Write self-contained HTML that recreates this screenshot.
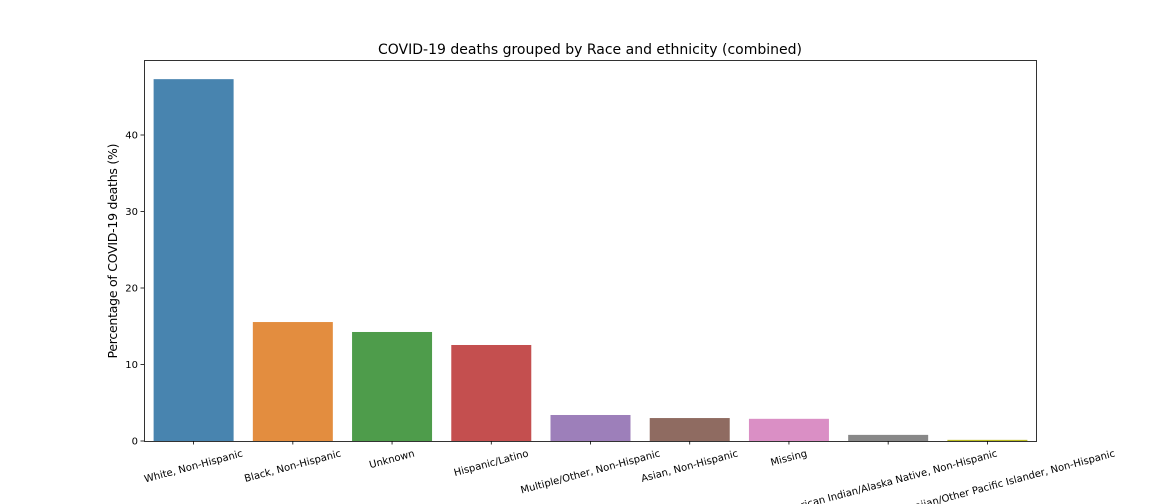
<!DOCTYPE html>
<html><head><meta charset="utf-8"><style>
html,body{margin:0;padding:0;background:#fff;width:1152px;height:504px;overflow:hidden}
svg text{font-family:"DejaVu Sans","Liberation Sans",sans-serif;fill:#000}
</style></head><body>
<svg id="chart" width="1152" height="504" xmlns="http://www.w3.org/2000/svg">
<text x="590" y="54" font-size="14" text-anchor="middle" textLength="424">COVID-19 deaths grouped by Race and ethnicity (combined)</text>
<text transform="translate(117,251) rotate(-90)" font-size="12.5" text-anchor="middle" textLength="215">Percentage of COVID-19 deaths (%)</text>
<g id="bars"></g><g id="axes"></g>
</svg>
<script>
const categories = ["White, Non-Hispanic","Black, Non-Hispanic","Unknown","Hispanic/Latino","Multiple/Other, Non-Hispanic","Asian, Non-Hispanic","Missing","American Indian/Alaska Native, Non-Hispanic","Native Hawaiian/Other Pacific Islander, Non-Hispanic"];
const values = [47.3, 15.55, 14.25, 12.55, 3.4, 3.0, 2.9, 0.8, 0.15];
const colors = ["#4884af","#e38d3f","#4e9c4b","#c44f4f","#9d7fba","#8f6b61","#da8fc5","#888888","#bcbd22"];
const yTicks = [0, 10, 20, 30, 40];
const L=144,R=1037,T=60,B=441;
const yScale=v=>B-v*7.65;
const slot=(R-L)/categories.length;
const xCenter=i=>L+slot*(i+0.5);
const NS="http://www.w3.org/2000/svg";
const bars=document.getElementById('bars'), axes=document.getElementById('axes');
function mk(tag,attrs,parent){const e=document.createElementNS(NS,tag);for(const k in attrs)e.setAttribute(k,attrs[k]);parent.appendChild(e);return e;}
values.forEach((v,i)=>{
  const r=mk('rect',{x:xCenter(i)-40,y:yScale(v),width:80,height:B-yScale(v),fill:colors[i]},bars);
  
  
});
const frame=mk('rect',{x:L+0.5,y:T+0.5,width:R-L-1,height:B-T,fill:'none',stroke:'#000','stroke-width':0.8},axes);


yTicks.forEach(t=>{
  const y=yScale(t);
  mk('line',{x1:L-3.5,x2:L,y1:y,y2:y,stroke:'#000','stroke-width':0.8},axes);
  const tx=mk('text',{x:L-6,y:y+3.5,'font-size':10,'text-anchor':'end'},axes);
  tx.textContent=t;
  
  
});
categories.forEach((c,i)=>{
  const x=xCenter(i);
  mk('line',{x1:x,x2:x,y1:B,y2:B+3.5,stroke:'#000','stroke-width':0.8},axes);
  const tx=mk('text',{x:0,y:0,'font-size':10,'text-anchor':'middle','dominant-baseline':'central'},axes);
  tx.textContent=c;
  
  
  const len=tx.getComputedTextLength();
  const h=len*Math.sin(15*Math.PI/180)+12*Math.cos(15*Math.PI/180);
  const cy=B+7+h/2;
  tx.setAttribute('transform','translate('+x+','+cy+') rotate(-15)');
});
</script>
</body></html>
